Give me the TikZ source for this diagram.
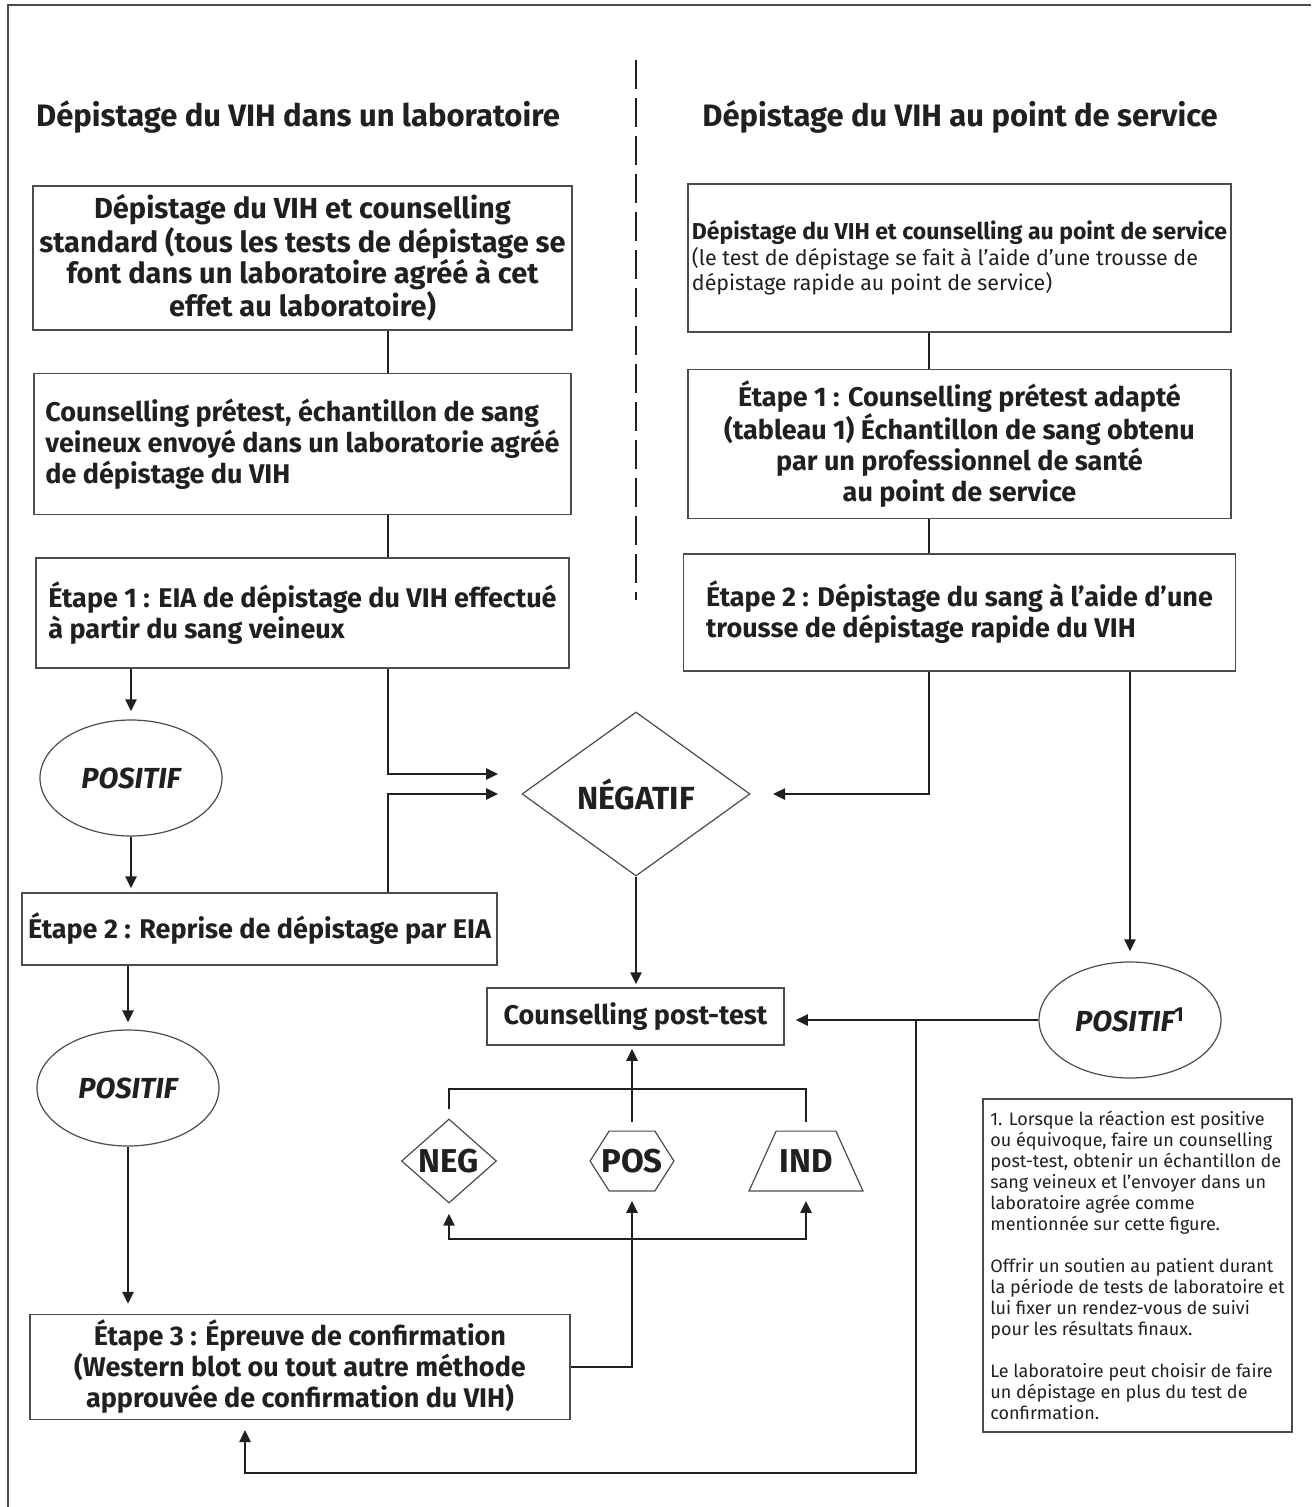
\documentclass[tikz,border=0pt]{standalone}
\usepackage{fontspec}
\setmainfont{Fira Sans}
\usepackage{xcolor}
\usepackage{tikz}
\usetikzlibrary{shapes.geometric, arrows.meta, positioning, calc}
\definecolor{vihink}{RGB}{35,31,32}
\definecolor{vihline}{RGB}{75,75,75}

\begin{document}
\begin{tikzpicture}[
  x=0.5pt, y=-0.5pt,
  heading/.style={text=vihink, font=\bfseries\fontsize{15.5}{18}\selectfont},
  box/.style={rectangle, draw=vihline, line width=0.75pt, inner sep=0pt,
    align=center, text=vihink, font=\bfseries\fontsize{13.5}{15.5}\selectfont},
  leftbox/.style={box, align=left},
  oval/.style={ellipse, draw=vihline, line width=0.6pt, inner sep=0pt,
    minimum width=91pt, minimum height=58pt, text=vihink,
    font=\bfseries\itshape\fontsize{14.5}{16}\selectfont},
  choice/.style={diamond, draw=vihline, line width=0.6pt, inner sep=0pt,
    text=vihink, font=\bfseries\fontsize{16.5}{18}\selectfont},
  result/.style={rectangle, inner sep=0pt, text=vihink,
    font=\bfseries\fontsize{16.5}{18}\selectfont},
  notebox/.style={rectangle, draw=vihline, line width=0.6pt, inner sep=0pt,
    align=left, text=vihink, font=\fontsize{9}{10.5}\selectfont},
  link/.style={vihink, line width=0.9pt},
  bar/.style={vihink, line width=1.25pt},
  arr/.style={-{Triangle[length=6pt, width=5.5pt]}, vihink, line width=1.25pt},
]
  \useasboundingbox (0,0) rectangle (1311,1507);
  \draw[vihline, line width=0.6pt] (1311,5) -- (8,5) -- (8,1507);
  \draw[vihink, line width=0.7pt, dash pattern=on 14.5pt off 4.5pt] (636,60) -- (636,600);

  % Column headings
  \node[heading] (labtitle) at (298,117) {Dépistage du VIH dans un laboratoire};
  \node[heading] (srvtitle) at (960,117) {Dépistage du VIH au point de service};

  % Laboratory column
  \node[box, minimum width=269.5pt, minimum height=72pt,
    font=\bfseries\fontsize{14.5}{15.5}\selectfont] (lab1) at (302.5,258)
    {Dépistage du VIH et counselling\\standard (tous les tests de dépistage se\\
     font dans un laboratoire agréé à cet\\effet au laboratoire)};
  \node[leftbox, minimum width=268.5pt, minimum height=70.5pt, below=21pt of lab1] (lab2)
    {Counselling prétest, échantillon de sang\\veineux envoyé dans un laboratorie agréé\\
     de dépistage du VIH};
  \node[leftbox, minimum width=266.5pt, minimum height=55pt, below=21pt of lab2] (lab3)
    {Étape 1 : EIA de dépistage du VIH effectué\\à partir du sang veineux};
  \node[oval] (pos1) at (131,778) {POSITIF};
  \node[box, minimum width=237.5pt, minimum height=36pt] (eia2) at (259.5,929)
    {Étape 2 : Reprise de dépistage par EIA};
  \node[oval] (pos2) at (128,1088) {POSITIF};
  \node[box, minimum width=270pt, minimum height=52.5pt] (conf) at (300,1367)
    {Étape 3 : Épreuve de confirmation\\(Western blot ou tout autre méthode\\
     approuvée de confirmation du VIH)};

  % Point of service column
  \node[leftbox, minimum width=271.5pt, minimum height=74pt,
    font=\fontsize{10.7}{12.75}\selectfont] (srv1) at (959.5,258)
    {\textbf{\fontsize{11.5}{12.75}\selectfont Dépistage du VIH et counselling au point de service}\\
     (le test de dépistage se fait à l’aide d’une trousse de\\
     dépistage rapide au point de service)};
  \node[box, minimum width=271.5pt, minimum height=74.5pt, below=18pt of srv1] (srv2)
    {Étape 1 : Counselling prétest adapté\\(tableau 1) Échantillon de sang obtenu\\
     par un professionnel de santé\\au point de service};
  \node[leftbox, minimum width=276pt, minimum height=58.5pt, below=17pt of srv2] (srv3)
    {Étape 2 : Dépistage du sang à l’aide d’une\\trousse de dépistage rapide du VIH};
  \node[oval] (pos3) at (1130,1020) {POSITIF\textsuperscript{\upshape 1}};

  % Results
  \node[choice, minimum width=114pt, minimum height=82pt,
    font=\bfseries\fontsize{16}{18}\selectfont] (neg) at (636,794) {NÉGATIF};
  \node[box, minimum width=148.5pt, minimum height=28.5pt] (post) at (635.5,1016.5)
    {Counselling post-test};
  \node[choice, minimum width=47.5pt, minimum height=30pt] (negb) at (449,1161) {NEG};
  \node[result, minimum width=41.5pt, minimum height=29.5pt] (posb) at (632,1161) {POS};
  \node[result, minimum width=56.5pt, minimum height=29.5pt] (ind) at (806,1161) {IND};
  \draw[vihline, line width=0.6pt] (posb.west) -- ([xshift=9.5pt]posb.north west)
    -- ([xshift=-9.5pt]posb.north east) -- (posb.east)
    -- ([xshift=-9.5pt]posb.south east) -- ([xshift=9.5pt]posb.south west) -- cycle;
  \draw[vihline, line width=0.6pt] (ind.south west) -- ([xshift=13.5pt]ind.north west)
    -- ([xshift=-13.5pt]ind.north east) -- (ind.south east) -- cycle;

  % Footnote
  \node[notebox, minimum width=154.5pt, minimum height=166.5pt] (note) at (1137.5,1265.5)
    {1. Lorsque la réaction est positive\\ou équivoque, faire un counselling\\
     post-test, obtenir un échantillon de\\sang veineux et l’envoyer dans un\\
     laboratoire agrée comme\\mentionnée sur cette figure.\\[10.5pt]
     Offrir un soutien au patient durant\\la période de tests de laboratoire et\\
     lui fixer un rendez-vous de suivi\\pour les résultats finaux.\\[10.5pt]
     Le laboratoire peut choisir de faire\\un dépistage en plus du test de\\
     confirmation.};

  % Connectors
  \coordinate (xl) at (388,0);
  \coordinate (xr) at (929,0);
  \coordinate (negl1) at (498,774);
  \coordinate (negl2) at (498,794);
  \coordinate (negr) at (773,794);
  \coordinate (loop) at (916,1473);
  \coordinate (confin) at (245,1430);
  \coordinate (tbar) at (0,1089);
  \coordinate (bbar) at (0,1239);

  \draw[link] (lab1.south -| xl) -- (lab2.north -| xl);
  \draw[link] (lab2.south -| xl) -- (lab3.north -| xl);
  \draw[link] (srv1.south -| xr) -- (srv2.north -| xr);
  \draw[link] (srv2.south -| xr) -- (srv3.north -| xr);

  \draw[arr, shorten >=4pt] (lab3.south -| pos1) -- (pos1.north);
  \draw[arr, shorten >=2pt] (pos1.south) -- (eia2.north -| pos1);
  \draw[arr, shorten >=3.5pt] (eia2.south -| pos2) -- (pos2.north);
  \draw[arr, shorten >=5pt] (pos2.south) -- (conf.north -| pos2);

  \draw[arr] (lab3.south -| xl) |- (negl1);
  \draw[arr] (eia2.north -| xl) |- (negl2);
  \draw[arr] (srv3.south -| xr) |- (negr);
  \draw[arr, shorten >=5pt] (srv3.south -| pos3) -- (pos3.north);
  \draw[arr, shorten >=1.5pt] (neg.south) -- (post.north -| neg.south);

  \draw[arr, shorten >=5.5pt] (pos3.west) -- (post.east |- pos3.west);
  \draw[arr] (pos3.west -| loop) -- (loop) -| (confin);

  \draw[arr, shorten >=5pt] (conf.east) -| (posb.south);
  \draw[arr, shorten >=5pt] (posb.south |- bbar) -| (negb.south);
  \draw[arr, shorten >=5pt] (posb.south |- bbar) -| (ind.south);
  \draw[bar, shorten <=4.5pt, shorten >=4.5pt] (negb.north) |- (posb.north |- tbar) -| (ind.north);
  \draw[arr, shorten <=4.5pt, shorten >=1.5pt] (posb.north) -- (post.south -| posb.north);
\end{tikzpicture}
\end{document}
